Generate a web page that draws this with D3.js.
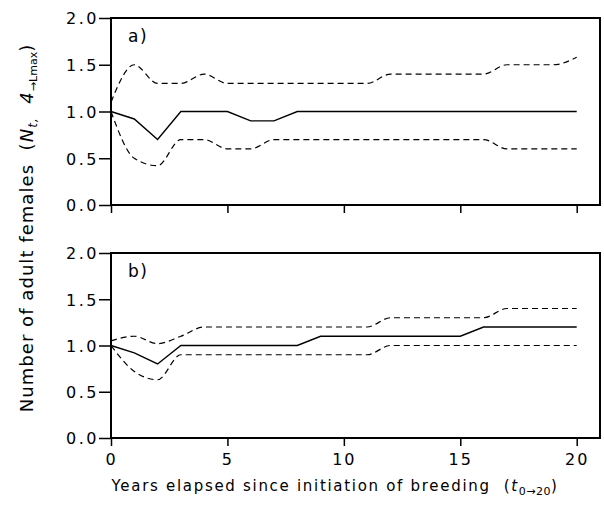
<!DOCTYPE html>
<html>
<head>
<meta charset="utf-8">
<script src="https://cdn.jsdelivr.net/npm/d3@7/dist/d3.min.js"></script>
<style>
	body { margin: 0; background: #fff; }
	text { font-family: "DejaVu Sans", Verdana, sans-serif; fill: #000; }
</style>
</head>
<body>
<svg width="604" height="516"></svg>
<script>
// years since initiation of breeding
const years = [0, 1, 2, 3, 4, 5, 6, 7, 8, 9, 10, 11, 12, 13, 14, 15, 16, 17, 18, 19, 20]
const yTicks = [0, 0.5, 1, 1.5, 2]
const xTicks = [0, 5, 10, 15, 20]

// panel a)
const meanA = [1.0, 0.92, 0.7, 1.0, 1.0, 1.0, 0.9, 0.9, 1.0, 1.0, 1.0, 1.0, 1.0, 1.0, 1.0, 1.0, 1.0, 1.0, 1.0, 1.0, 1.0]
const upperA = [1.1, 1.5, 1.3, 1.3, 1.4, 1.3, 1.3, 1.3, 1.3, 1.3, 1.3, 1.3, 1.4, 1.4, 1.4, 1.4, 1.4, 1.5, 1.5, 1.5, 1.58]
const lowerA = [1.0, 0.5, 0.42, 0.7, 0.7, 0.6, 0.6, 0.7, 0.7, 0.7, 0.7, 0.7, 0.7, 0.7, 0.7, 0.7, 0.7, 0.6, 0.6, 0.6, 0.6]

// panel b)
const meanB = [1.0, 0.92, 0.8, 1.0, 1.0, 1.0, 1.0, 1.0, 1.0, 1.1, 1.1, 1.1, 1.1, 1.1, 1.1, 1.1, 1.2, 1.2, 1.2, 1.2, 1.2]
const upperB = [1.05, 1.1, 1.02, 1.1, 1.2, 1.2, 1.2, 1.2, 1.2, 1.2, 1.2, 1.2, 1.3, 1.3, 1.3, 1.3, 1.3, 1.4, 1.4, 1.4, 1.4]
const lowerB = [1.0, 0.72, 0.63, 0.9, 0.9, 0.9, 0.9, 0.9, 0.9, 0.9, 0.9, 0.9, 1.0, 1.0, 1.0, 1.0, 1.0, 1.0, 1.0, 1.0, 1.0]

const panels = [
	{ name: "a)", top: 18, bottom: 205, mean: meanA, upper: upperA, lower: lowerA, xLabels: false },
	{ name: "b)", top: 253, bottom: 438, mean: meanB, upper: upperB, lower: lowerB, xLabels: true },
]

const svg = d3.select("svg")
const left = 111,
	right = 600

const x = d3.scaleLinear().domain([0, 21]).range([left, right])

panels.forEach(function (p) {
	const y = d3.scaleLinear().domain([0, 2]).range([p.bottom, p.top])
	const g = svg.append("g")

	const yAxis = g
		.append("g")
		.attr("transform", "translate(" + left + ",0)")
		.call(d3.axisLeft(y).tickValues(yTicks).tickSize(12).tickPadding(0).tickFormat(d3.format(".1f")))
	yAxis.select(".domain").remove()
	yAxis.selectAll("line").attr("stroke-width", 1.5)
	yAxis
		.selectAll("text")
		.attr("font-family", null)
		.attr("dy", "0.36em")
		.style("font-size", "16px")
		.style("letter-spacing", "2.5px")

	const xAxis = g
		.append("g")
		.attr("transform", "translate(0," + p.bottom + ")")
		.call(d3.axisBottom(x).tickValues(xTicks).tickSize(8).tickPadding(8))
	xAxis.select(".domain").remove()
	xAxis.selectAll("line").attr("stroke-width", 1.5)
	xAxis
		.selectAll("text")
		.attr("font-family", null)
		.style("font-size", "16px")
		.style("letter-spacing", "2px")
	if (!p.xLabels) xAxis.selectAll("text").remove()

	g.append("rect")
		.attr("x", left)
		.attr("y", p.top)
		.attr("width", right - left)
		.attr("height", p.bottom - p.top)
		.attr("fill", "none")
		.attr("stroke", "#000")
		.attr("stroke-width", 2)

	const line = function (vals, curve) {
		return d3
			.line()
			.x(function (d, i) { return x(years[i]) })
			.y(function (d) { return y(d) })
			.curve(curve)(vals)
	}

	g.append("path")
		.attr("d", line(p.upper, d3.curveMonotoneX))
		.attr("fill", "none")
		.attr("stroke", "#000")
		.attr("stroke-width", 1.2)
		.attr("stroke-dasharray", "6,4")
	g.append("path")
		.attr("d", line(p.lower, d3.curveMonotoneX))
		.attr("fill", "none")
		.attr("stroke", "#000")
		.attr("stroke-width", 1.2)
		.attr("stroke-dasharray", "6,4")
	g.append("path")
		.attr("d", line(p.mean, d3.curveLinear))
		.attr("fill", "none")
		.attr("stroke", "#000")
		.attr("stroke-width", 1.4)

	g.append("text")
		.attr("x", 128)
		.attr("y", p.top + 24)
		.style("font-size", "17px")
		.style("letter-spacing", "1.5px")
		.text(p.name)
})

// x axis title
const xt = svg
	.append("text")
	.attr("x", 335)
	.attr("y", 491)
	.attr("text-anchor", "middle")
	.style("font-size", "15px")
	.style("letter-spacing", "1.7px")
	.attr("xml:space", "preserve")
xt.append("tspan").text("Years elapsed since initiation of breeding  (")
xt.append("tspan").style("font-style", "italic").text("t")
xt.append("tspan").attr("dy", 4).style("font-size", "11px").style("letter-spacing", "0.5px").text("0\u219220")
xt.append("tspan").attr("dy", -4).text(")")

// y axis title
const yt = svg
	.append("text")
	.attr("transform", "translate(33,228) rotate(-90)")
	.attr("text-anchor", "middle")
	.style("font-size", "18px")
	.style("letter-spacing", "1.05px")
	.attr("xml:space", "preserve")
yt.append("tspan").text("Number of adult females  (")
yt.append("tspan").style("font-style", "italic").text("N")
yt.append("tspan").attr("dy", 4).style("font-size", "12px").style("font-style", "italic").text("t,")
yt.append("tspan").attr("dy", -4).text("  ")
yt.append("tspan").style("font-style", "italic").text("4")
yt.append("tspan").attr("dy", 4).style("font-size", "11px").style("letter-spacing", "0px").text("\u2192Lmax")
yt.append("tspan").attr("dy", -4).text(")")
</script>
</body>
</html>
